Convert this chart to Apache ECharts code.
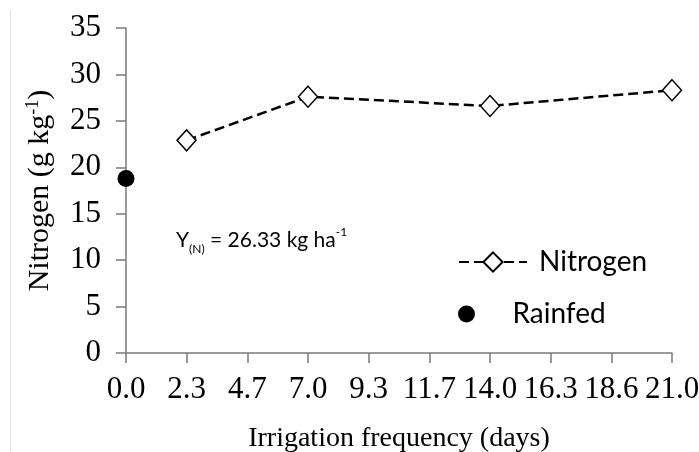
<!DOCTYPE html>
<html>
<head>
<meta charset="utf-8">
<script src="https://cdn.jsdelivr.net/npm/echarts@6/dist/echarts.min.js"></script>
<style>
  html, body { margin: 0; padding: 0; background: #ffffff; }
  #chart { width: 699px; height: 452px; }
</style>
</head>
<body>
<div id="chart"></div>
<script>
// ---- data ----
var xTickLabels = ['0.0', '2.3', '4.7', '7.0', '9.3', '11.7', '14.0', '16.3', '18.6', '21.0'];
var nitrogenX = [2.33, 7, 14, 21];
var nitrogenY = [22.9, 27.6, 26.6, 28.3];
var rainfedX = [0];
var rainfedY = [18.8];
var yTicks = [0, 5, 10, 15, 20, 25, 30, 35];

var xStep = 7 / 3;
var serif = '"Liberation Serif", "Times New Roman", serif';
var sans = 'Lato, "Liberation Sans", sans-serif';

var nitrogenData = nitrogenX.map(function (x, i) { return [x, nitrogenY[i]]; });
var rainfedData = rainfedX.map(function (x, i) { return [x, rainfedY[i]]; });

var chart = echarts.init(document.getElementById('chart'), null, { renderer: 'canvas' });
chart.setOption({
  animation: false,
  backgroundColor: '#ffffff',
  grid: { left: 126, right: 27, top: 28, bottom: 99, containLabel: false, outerBoundsMode: 'none' },
  xAxis: {
    type: 'value',
    min: 0,
    max: 21,
    interval: xStep,
    name: 'Irrigation frequency (days)',
    nameLocation: 'middle',
    nameGap: 72,
    nameTextStyle: { fontFamily: serif, fontSize: 28, color: '#000' },
    axisLine: { show: true, onZero: false, lineStyle: { color: '#7a7a7a', width: 1.5 } },
    axisTick: { show: true, inside: false, length: 10, lineStyle: { color: '#7a7a7a', width: 1.5 } },
    splitLine: { show: false },
    axisLabel: {
      margin: 21,
      fontFamily: serif,
      fontSize: 31,
      color: '#000',
      hideOverlap: false,
      formatter: function (v) {
        var idx = Math.round(v / xStep);
        return xTickLabels[idx] !== undefined ? xTickLabels[idx] : '';
      }
    }
  },
  yAxis: {
    type: 'value',
    min: yTicks[0],
    max: yTicks[yTicks.length - 1],
    interval: 5,
    name: '{n|Nitrogen (g kg}{s|-1}{n|)}',
    nameLocation: 'middle',
    nameRotate: 90,
    nameGap: 70,
    nameTextStyle: {
      fontFamily: serif, fontSize: 30, color: '#000',
      rich: {
        n: { fontFamily: serif, fontSize: 30, color: '#000', lineHeight: 32 },
        s: { fontFamily: serif, fontSize: 18, color: '#000', verticalAlign: 'top', lineHeight: 32 }
      }
    },
    axisLine: { show: true, lineStyle: { color: '#7a7a7a', width: 1.5 } },
    axisTick: { show: true, inside: false, length: 10, lineStyle: { color: '#7a7a7a', width: 1.5 } },
    splitLine: { show: false },
    axisLabel: { margin: 25, fontFamily: serif, fontSize: 31, color: '#000' }
  },
  legend: [
    {
      data: ['Nitrogen'],
      orient: 'vertical',
      left: 458,
      top: 248,
      padding: 0,
      itemWidth: 68,
      itemHeight: 24,
      textStyle: { fontFamily: sans, fontSize: 28, color: '#000', padding: [0, 0, 0, 7], lineHeight: 28 }
    },
    {
      data: ['Rainfed'],
      orient: 'vertical',
      left: 458,
      top: 300,
      padding: 0,
      itemWidth: 68,
      itemHeight: 17,
      textStyle: { fontFamily: sans, fontSize: 28, color: '#000', padding: [0, 0, 0, 7], lineHeight: 28 }
    }
  ],
  series: [
    {
      name: 'Nitrogen',
      type: 'line',
      data: nitrogenData,
      symbol: 'diamond',
      symbolSize: [19, 21],
      showAllSymbol: true,
      lineStyle: { color: '#000', width: 2.5, type: [10, 5] },
      itemStyle: { color: '#ffffff', borderColor: '#000', borderWidth: 1.5 },
      z: 3
    },
    {
      name: 'Rainfed',
      type: 'scatter',
      data: rainfedData,
      symbol: 'circle',
      symbolSize: 17,
      itemStyle: { color: '#000', opacity: 1 },
      z: 4
    }
  ],
  graphic: [
    {
      type: 'line',
      shape: { x1: 10.5, y1: 10, x2: 10.5, y2: 452 },
      style: { stroke: '#e4e4e4', lineWidth: 1 },
      silent: true
    },
    {
      type: 'text',
      left: 176,
      top: 226,
      style: {
        text: '{a|Y}{b|(N)}{a| = 26.33 kg ha}{c|-1}',
        rich: {
          a: { fontFamily: sans, fontSize: 21, fill: '#000', lineHeight: 25, verticalAlign: 'bottom' },
          b: { fontFamily: sans, fontSize: 12, fill: '#000', lineHeight: 25, verticalAlign: 'bottom', padding: [0, 0, -4, 0] },
          c: { fontFamily: sans, fontSize: 12, fill: '#000', lineHeight: 25, verticalAlign: 'top' }
        }
      }
    }
  ]
});
</script>
</body>
</html>
